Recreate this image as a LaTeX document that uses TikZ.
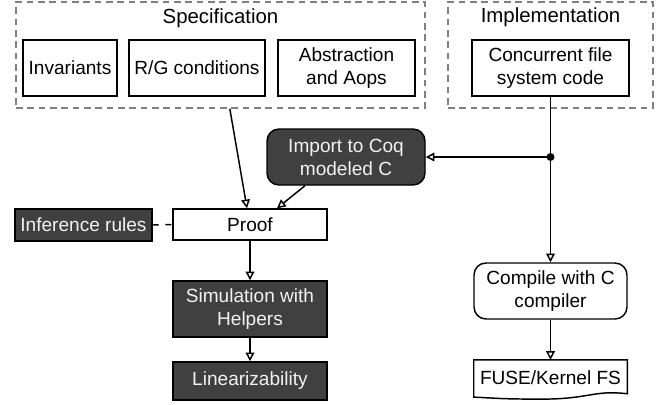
\documentclass[tikz,border=0pt]{standalone}
\usepackage{fontspec}
\setmainfont{Liberation Sans}
\usetikzlibrary{arrows.meta}
\definecolor{boxdark}{RGB}{64,64,64}
\definecolor{boxtext}{RGB}{242,242,242}
\definecolor{groupgray}{RGB}{128,128,128}
\begin{document}
\begin{tikzpicture}[x=0.75pt, y=-0.75pt,
	every node/.style={font=\fontsize{14.3}{17.3}\selectfont, align=center, inner sep=0pt},
	plainbox/.style={draw, line width=1.1pt, fill=white},
	darkbox/.style={draw, line width=1.1pt, fill=boxdark, text=boxtext},
	groupbox/.style={draw=groupgray, line width=1.1pt, dash pattern=on 5pt off 3.5pt},
	heading/.style={font=\fontsize{15.3}{18}\selectfont},
	arr/.style={line width=1.1pt, -{Triangle[open, length=6.5pt, width=6.5pt]}}]
	\useasboundingbox (0,0) rectangle (672,404);
	\node[groupbox, minimum width=306.75pt, minimum height=79.5pt] (spec) at (220.5,55) {};
	\node[heading] (spectitle) at (220.5,18) {Specification};
	\node[plainbox, minimum width=70.5pt, minimum height=42pt] (inv) at (70,68) {Invariants};
	\node[plainbox, minimum width=102pt, minimum height=42pt] (rg) at (197,68) {R/G conditions};
	\node[plainbox, minimum width=102.75pt, minimum height=42pt] (abs) at (346.5,68) {Abstraction\\and Aops};
	\node[groupbox, minimum width=153.75pt, minimum height=79.5pt] (impl) at (550.5,55) {};
	\node[heading] (impltitle) at (550.5,17) {Implementation};
	\node[plainbox, minimum width=117.75pt, minimum height=42pt] (code) at (550.5,68) {Concurrent file\\system code};
	\node[darkbox, rounded corners=9pt, minimum width=118.5pt, minimum height=42pt] (import) at (346,157) {Import to Coq\\modeled C};
	\coordinate (junc) at (code.south |- import.east);
	\node[plainbox, minimum width=115.5pt, minimum height=23.25pt] (proof) at (250,224.5) {Proof};
	\node[darkbox, minimum width=102.75pt, minimum height=24pt] (infer) at (83.5,225) {Inference rules};
	\node[darkbox, minimum width=115.5pt, minimum height=42pt] (sim) at (250,309) {Simulation with\\Helpers};
	\node[darkbox, minimum width=115.5pt, minimum height=28.5pt] (lin) at (250,381) {Linearizability};
	\node[plainbox, rounded corners=9pt, minimum width=114.75pt, minimum height=42pt] (compile) at (550.5,291) {Compile with C\\compiler};
	\node[minimum width=114.75pt, minimum height=26pt] (fuse) at (550.5,377.5) {FUSE/Kernel FS};
	\draw[line width=1.1pt] (fuse.north west) -- (fuse.north east) -- ([yshift=1pt]fuse.south east)
		.. controls +(-25pt,3pt) and +(35pt,0pt) .. ([xshift=-6pt,yshift=-3pt]fuse.south)
		.. controls +(-30pt,0pt) and +(20pt,-1pt) .. ([yshift=-1.5pt]fuse.south west) -- cycle;
	\draw[arr] ([xshift=7pt]spec.south) -- ([xshift=-2.25pt]proof.north);
	\draw[arr] ([xshift=-30.75pt]import.south) -- ([xshift=20.25pt]proof.north);
	\draw[line width=1.1pt, dash pattern=on 4.5pt off 5pt] (infer.east) -- (proof.west);
	\draw[arr] (code.south) -- (compile.north);
	\draw[arr] (junc) -- (import.east);
	\fill (junc) circle (3pt);
	\draw[arr] (proof.south) -- (sim.north);
	\draw[arr] (sim.south) -- (lin.north);
	\draw[arr] (compile.south) -- (fuse.north);
\end{tikzpicture}
\end{document}
